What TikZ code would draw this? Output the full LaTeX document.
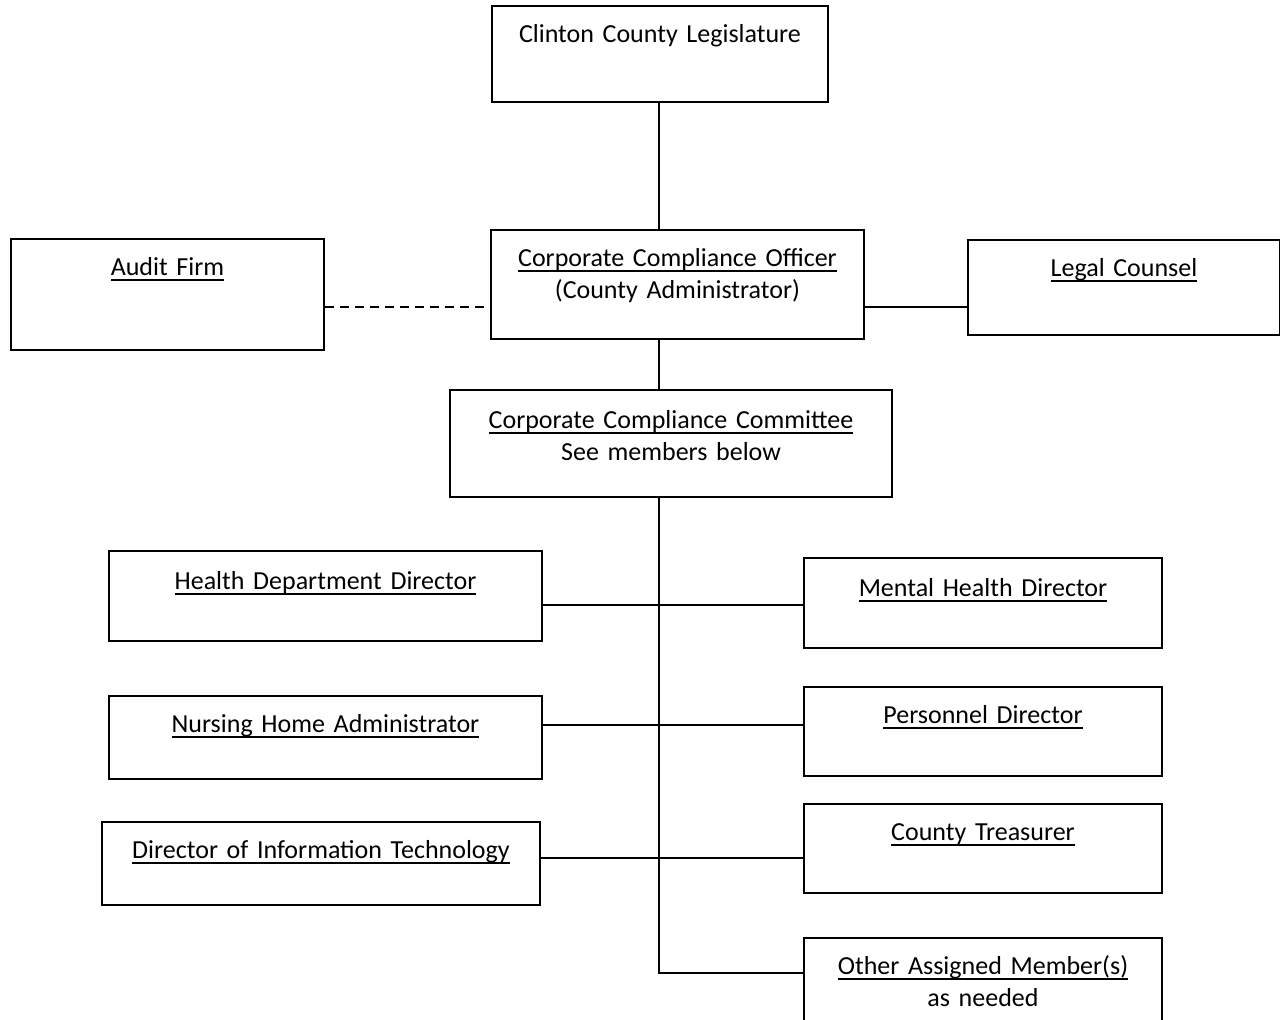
\documentclass[tikz,border=0pt]{standalone}
\usepackage{fontspec}
\setmainfont{Carlito}
\usepackage{tikz}
\usetikzlibrary{positioning}

% underline kept close to the baseline
\newcommand\uln[1]{\leavevmode\vtop{\hbox{\smash{#1}}\kern2pt\hrule height 0.9pt}}

\tikzset{
  orgbox/.style={draw, line width=1pt, inner sep=0pt, anchor=north west,
    align=center, text height=18pt},
  link/.style={line width=0.75pt},
  dotlink/.style={line width=0.75pt, dash pattern=on 4.5pt off 3pt}
}

\begin{document}
\begin{tikzpicture}[x=0.5pt, y=-0.5pt, font=\fontsize{13}{16}\selectfont]

           \clip (0,0) rectangle (1280,1019);
           \useasboundingbox (0,0) rectangle (1280,1019);

           % Top of the chart
           \node[orgbox, text width=168pt, text depth=30pt] (leg) at (491,5)
             {Clinton County Legislature};
           \node[orgbox, text width=186.5pt, text depth=36.5pt] (cco) at (490,229)
             {\uln{Corporate Compliance Officer}\\(County Administrator)};
           \node[orgbox, text width=156.5pt, text depth=37.5pt] (audit) at (10,238)
             {\uln{Audit Firm}};
           \node[orgbox, text width=156pt, text depth=29.5pt] (legal) at (967,239)
             {\uln{Legal Counsel}};
           \node[orgbox, text width=221pt, text height=19pt, text depth=34.5pt] (comm) at (449,389)
             {\uln{Corporate Compliance Committee}\\See members below};

           % Committee members
           \node[orgbox, text width=216.5pt, text height=19pt, text depth=26pt] (health) at (108,550)
             {\uln{Health Department Director}};
           \node[orgbox, text width=179pt, text height=19pt, text depth=26pt] (mental) at (803,557)
             {\uln{Mental Health Director}};
           \node[orgbox, text width=216.5pt, text depth=23.5pt] (nursing) at (108,695)
             {\uln{Nursing Home Administrator}};
           \node[orgbox, text width=179pt, text depth=26.5pt] (personnel) at (803,686)
             {\uln{Personnel Director}};
           \node[orgbox, text width=219pt, text depth=23.5pt] (infotech) at (101,821)
             {\uln{Director of Information Technology}};
           \node[orgbox, text width=179pt, text depth=26.5pt] (treasurer) at (803,803)
             {\uln{County Treasurer}};
           \node[orgbox, text width=179pt, text depth=27pt] (other) at (803,937)
             {\uln{Other Assigned Member(s)}\\as needed};

           % Connector heights
           \coordinate (side) at (659,307);
           \coordinate (rung1) at (659,605);
           \coordinate (rung2) at (659,725);
           \coordinate (rung3) at (659,858);
           \coordinate (rung4) at (659,973);

           % Vertical line
           \draw[link] (leg.south -| side) -- (cco.north -| side);
           \draw[link] (cco.south -| side) -- (comm.north -| side);
           \draw[link] (comm.south -| side) -- (rung4) -- (other.west |- rung4);

           % Side links
           \draw[dotlink] (audit.east |- side) -- (cco.west |- side);
           \draw[link] (cco.east |- side) -- (legal.west |- side);

           % Rungs
           \draw[link] (health.east |- rung1) -- (mental.west |- rung1);
           \draw[link] (nursing.east |- rung2) -- (personnel.west |- rung2);
           \draw[link] (infotech.east |- rung3) -- (treasurer.west |- rung3);

\end{tikzpicture}
\end{document}
